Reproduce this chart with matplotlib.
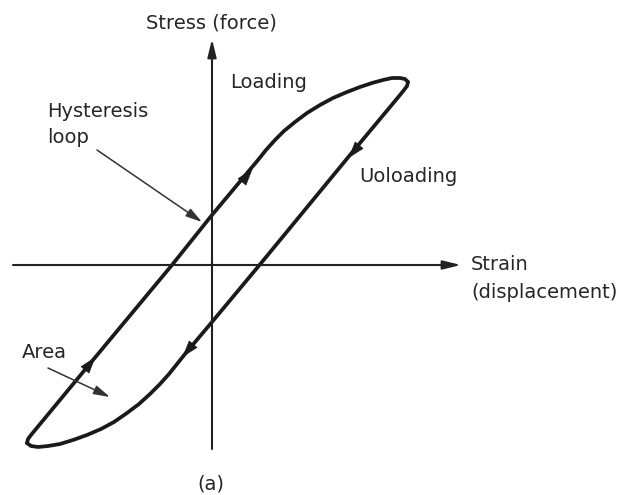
import numpy as np
import matplotlib
matplotlib.use("Agg")
import matplotlib.pyplot as plt

# ---- data (strain, stress) ----
loading_strain = [-1.85, -1.84, -1.81, -1.19, -0.40, 0.00, 0.46, 0.54, 0.63,
                  0.72, 0.83, 0.95, 1.08, 1.21, 1.35, 1.48, 1.60, 1.71, 1.80,
                  1.88, 1.93, 1.96]
loading_stress = [-1.78, -1.74, -1.70, -0.95, 0.00, 0.50, 1.05, 1.15, 1.25,
                  1.34, 1.43, 1.52, 1.60, 1.67, 1.73, 1.78, 1.82, 1.85, 1.87,
                  1.87, 1.86, 1.83]

unloading_strain = [1.96, 1.95, 1.92, 1.88, 1.38, 0.50, 0.00, -0.27, -0.35,
                    -0.43, -0.52, -0.62, -0.73, -0.85, -0.98, -1.11, -1.25,
                    -1.39, -1.52, -1.64, -1.74, -1.81, -1.85]
unloading_stress = [1.83, 1.79, 1.75, 1.70, 1.10, 0.03, -0.57, -0.89, -0.99,
                    -1.09, -1.19, -1.29, -1.39, -1.48, -1.57, -1.64, -1.70,
                    -1.75, -1.79, -1.81, -1.82, -1.81, -1.78]

# arrowheads on the loop: tip (strain, stress) and travel direction
arrow_strain = [0.38, -1.19, 1.39, -0.27]
arrow_stress = [0.93, -0.95, 1.10, -0.89]
arrow_dir_x = [0.63, 0.63, -0.64, -0.64]
arrow_dir_y = [0.78, 0.78, -0.77, -0.77]

# text labels
x_label_lines = ["Strain", "(displacement)"]
y_label = "Stress (force)"
loading_label = "Loading"
unloading_label = "Uoloading"
hyst_label_lines = ["Hysteresis", "loop"]
area_label = "Area"
panel_label = "(a)"

fig = plt.figure(figsize=(6.29, 4.95), dpi=100)
ax = fig.add_axes([0, 0, 1, 1])
ax.set_xlim(-2.12, 4.17)
ax.set_ylim(-2.30, 2.65)
ax.axis("off")

font = dict(family="DejaVu Sans", color="#262626", fontsize=14)
ink = "#1a1a1a"

# coordinate axes with arrows
axis_arrow = dict(arrowstyle="-|>,head_length=0.9,head_width=0.22", color="#222222",
                  lw=1.5, mutation_scale=12, shrinkA=0, shrinkB=0)
ax.annotate("", xy=(2.49, 0), xytext=(-1.99, 0), arrowprops=axis_arrow)
ax.annotate("", xy=(0, 2.26), xytext=(0, -1.84), arrowprops=axis_arrow)

# loop
ax.plot(loading_strain, loading_stress, color=ink, lw=2.7,
        solid_capstyle="round", solid_joinstyle="round")
ax.plot(unloading_strain, unloading_stress, color=ink, lw=2.7,
        solid_capstyle="round", solid_joinstyle="round")

for x, y, dx, dy in zip(arrow_strain, arrow_stress, arrow_dir_x, arrow_dir_y):
    ax.annotate("", xy=(x + 0.04 * dx, y + 0.04 * dy),
                xytext=(x - 0.10 * dx, y - 0.10 * dy),
                arrowprops=dict(arrowstyle="-|>,head_length=0.8,head_width=0.26",
                                color=ink, lw=0.5, mutation_scale=14,
                                shrinkA=0, shrinkB=0))

# labels
ax.text(-0.01, 2.42, y_label, ha="center", va="center", **font)
ax.text(2.59, -0.05, x_label_lines[0], ha="left", va="baseline", **font)
ax.text(2.59, -0.28, x_label_lines[1], ha="left", va="center", **font)
ax.text(0.18, 1.77, loading_label, ha="left", va="baseline", **font)
ax.text(1.47, 0.83, unloading_label, ha="left", va="baseline", **font)
ax.text(-1.65, 1.48, hyst_label_lines[0], ha="left", va="baseline", **font)
ax.text(-1.65, 1.22, hyst_label_lines[1], ha="left", va="baseline", **font)
ax.text(-1.90, -0.87, area_label, ha="left", va="center", **font)
ax.text(-0.01, -2.19, panel_label, ha="center", va="center", **font)

# pointer arrows
pointer = dict(arrowstyle="-|>,head_length=0.9,head_width=0.25", color="#333333",
               lw=1.1, mutation_scale=11, shrinkA=0, shrinkB=0)
ax.annotate("", xy=(-0.10, 0.43), xytext=(-1.15, 1.15), arrowprops=pointer)
ax.annotate("", xy=(-1.02, -1.32), xytext=(-1.64, -1.03), arrowprops=pointer)

fig.savefig("out.png", dpi=100, facecolor="white")
